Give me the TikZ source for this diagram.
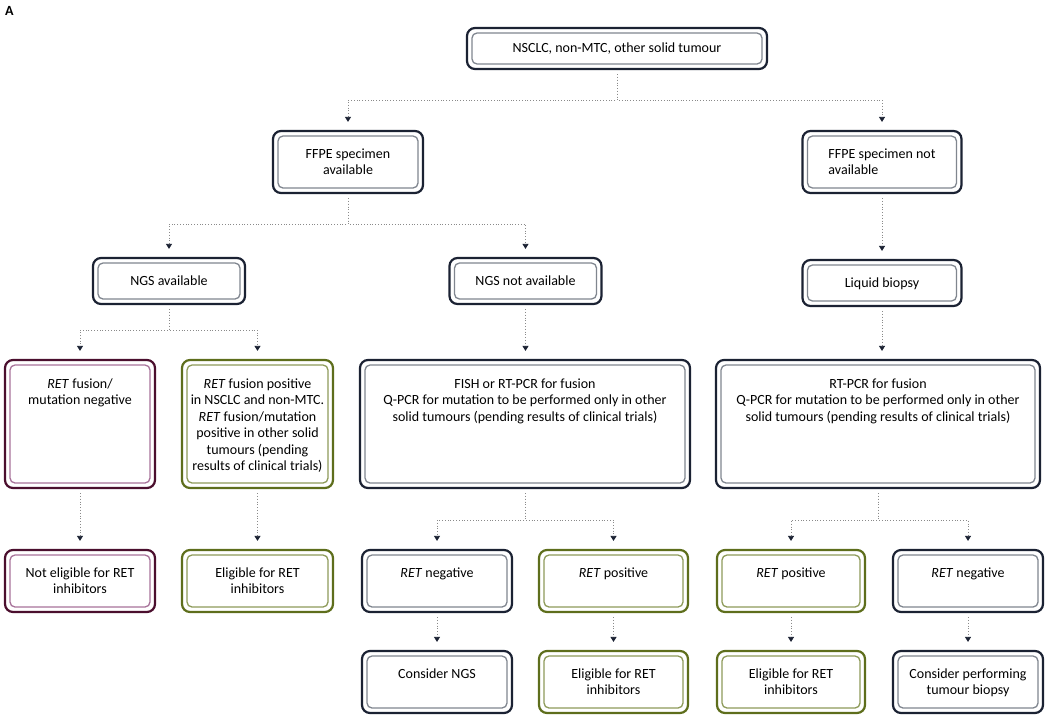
\documentclass[tikz,border=0pt]{standalone}
\usepackage{fontspec}
\setmainfont{Carlito}
\usepackage{xcolor}
\usepackage{tikz}
\usetikzlibrary{positioning, arrows.meta}
\definecolor{darknavy}{HTML}{1B2233}
\definecolor{navyinner}{HTML}{80868F}
\definecolor{retred}{HTML}{4B0F2E}
\definecolor{retredinner}{HTML}{A8739A}
\definecolor{retgreen}{HTML}{5E6E1C}
\definecolor{retgreeninner}{HTML}{8E9B5A}
\definecolor{linkgrey}{HTML}{8A8A8A}
% lines hang from the first one, so the text sits at the top of the box
\newcommand{\boxlines}[2][c]{\begin{tabular}[t]{@{}#1@{}}#2\end{tabular}}

\tikzset{
  flowbox/.style 2 args={draw=#1, line width=2.2pt, rounded corners=8pt, fill=white,
    inner xsep=6pt, inner ysep=0pt,
    font=\fontsize{14}{16.5}\selectfont,
    path picture={\draw[#2, line width=1.3pt, rounded corners=5pt]
      ([shift={(5pt,5pt)}]path picture bounding box.south west) rectangle
      ([shift={(-5pt,-5pt)}]path picture bounding box.north east);}},
  navybox/.style={flowbox={darknavy}{navyinner}},
  redbox/.style={flowbox={retred}{retredinner}},
  greenbox/.style={flowbox={retgreen}{retgreeninner}},
  % box heights: 41, 46, 62 and 128 px
  headbox/.style={text height=24pt, text depth=17pt},
  thinbox/.style={text height=27.5pt, text depth=18.5pt},
  midbox/.style={text height=27pt, text depth=35pt},
  bigbox/.style={text height=28pt, text depth=100pt},
  link/.style={draw=linkgrey, dotted, line width=0.8pt,
    -{Triangle[width=6pt, length=5pt, color=darknavy]},
    shorten <=4pt, shorten >=8pt}
}

\begin{document}
\begin{tikzpicture}[x=1pt, y=-1pt]
  \useasboundingbox (0,0) rectangle (1048,716);

  \node[anchor=north west, inner sep=0pt, font=\bfseries\fontsize{14}{14}\selectfont] (panel) at (5,6) {A};

  % first levels
  \node[navybox, headbox, minimum width=300pt] (tumour) at (617,48.5) {NSCLC, non-MTC, other solid tumour};
  \node[navybox, midbox, minimum width=150pt] (ffpeyes) at (348,162) {\boxlines{FFPE specimen\\available}};
  \node[navybox, midbox, minimum width=159pt] (ffpeno) at (882,162) {\boxlines[l]{FFPE specimen not\\available}};

  \node[navybox, thinbox, minimum width=152pt] (ngsyes) at (169,281) {NGS available};
  \node[navybox, thinbox, minimum width=152pt] (ngsno) at (525.5,281) {NGS not available};
  \node[navybox, thinbox, minimum width=159pt] (liquid) at (882,283) {Liquid biopsy};

  % tests
  \node[redbox, bigbox, minimum width=150pt] (retneg) at (80,424) {\boxlines{\textit{RET} fusion/\\mutation negative}};
  \node[greenbox, bigbox, minimum width=151pt] (retpos) at (257.5,424)
    {\boxlines{\textit{RET} fusion positive\\in NSCLC and non-MTC.\\\textit{RET} fusion/mutation\\positive in other solid\\tumours (pending\\results of clinical trials)}};
  \node[navybox, bigbox, minimum width=330pt] (fish) at (525,424)
    {\boxlines{FISH or RT-PCR for fusion\\Q-PCR for mutation to be performed only in other\\solid tumours (pending results of clinical trials)}};
  \node[navybox, bigbox, minimum width=324pt] (rtpcr) at (878,424)
    {\boxlines{RT-PCR for fusion\\Q-PCR for mutation to be performed only in other\\solid tumours (pending results of clinical trials)}};

  % results
  \node[redbox, midbox, minimum width=150pt] (noteligible) at (80,581) {\boxlines{Not eligible for RET\\inhibitors}};
  \node[greenbox, midbox, minimum width=151pt] (eligible) at (257.5,581) {\boxlines{Eligible for RET\\inhibitors}};
  \node[navybox, midbox, minimum width=150pt] (negfish) at (437,581) {\textit{RET} negative};
  \node[greenbox, midbox, minimum width=149pt] (posfish) at (613.5,581) {\textit{RET} positive};
  \node[greenbox, midbox, minimum width=148pt] (posliquid) at (791,581) {\textit{RET} positive};
  \node[navybox, midbox, minimum width=150pt] (negliquid) at (968,581) {\textit{RET} negative};

  \node[navybox, midbox, minimum width=150pt] (considerngs) at (437,682) {Consider NGS};
  \node[greenbox, midbox, minimum width=149pt] (eligiblefish) at (613.5,682) {\boxlines{Eligible for RET\\inhibitors}};
  \node[greenbox, midbox, minimum width=148pt] (eligibleliquid) at (791,682) {\boxlines{Eligible for RET\\inhibitors}};
  \node[navybox, midbox, minimum width=150pt] (biopsy) at (968,682) {\boxlines{Consider performing\\tumour biopsy}};

  % connectors
  \draw[link] (tumour.south) -- ++(0,30) -| (ffpeyes.north);
  \draw[link] (tumour.south) -- ++(0,30) -| (ffpeno.north);
  \draw[link] (ffpeyes.south) -- ++(0,30) -| (ngsyes.north);
  \draw[link] (ffpeyes.south) -- ++(0,30) -| (ngsno.north);
  \draw[link] (ffpeno.south) -- (liquid.north);
  \draw[link] (ngsyes.south) -- ++(0,25) -| (retneg.north);
  \draw[link] (ngsyes.south) -- ++(0,25) -| (retpos.north);
  \draw[link] (ngsno.south) -- (ngsno.south |- fish.north);
  \draw[link] (liquid.south) -- (liquid.south |- rtpcr.north);
  \draw[link] (retneg.south) -- (noteligible.north);
  \draw[link] (retpos.south) -- (eligible.north);
  \draw[link] (fish.south) -- ++(0,31) -| (negfish.north);
  \draw[link] (fish.south) -- ++(0,31) -| (posfish.north);
  \draw[link] (rtpcr.south) -- ++(0,31) -| (posliquid.north);
  \draw[link] (rtpcr.south) -- ++(0,31) -| (negliquid.north);
  \draw[link] (negfish.south) -- (considerngs.north);
  \draw[link] (posfish.south) -- (eligiblefish.north);
  \draw[link] (posliquid.south) -- (eligibleliquid.north);
  \draw[link] (negliquid.south) -- (biopsy.north);
\end{tikzpicture}
\end{document}
